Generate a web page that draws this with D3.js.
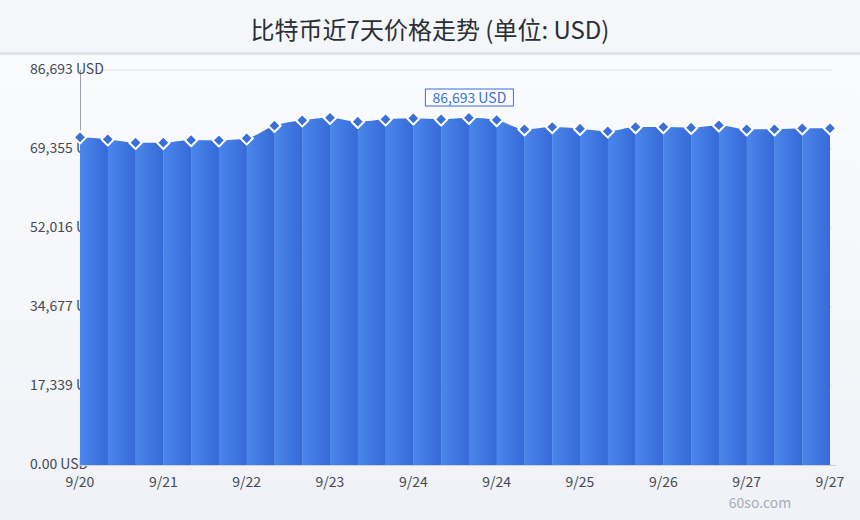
<!DOCTYPE html>
<html>
<head>
<meta charset="utf-8">
<script src="https://cdn.jsdelivr.net/npm/d3@7/dist/d3.min.js"></script>
<style>
  html, body { margin: 0; padding: 0; background: #f4f6fa; }
  svg { display: block; }
</style>
</head>
<body>
<svg id="chart" width="860" height="520"></svg>
<script>
// ---- data ----
const title = "比特币近7天价格走势 (单位: USD)";
const prices = [71920, 71480, 70740, 70740, 71330, 71260, 71700,
                74470, 75650, 76220, 75350, 75870, 76090, 75870,
                76220, 75720, 73680, 74180, 73810, 73240, 74180,
                74180, 74030, 74560, 73680, 73680, 73900, 73900];
const xTickLabels = ["9/20", "9/21", "9/22", "9/23", "9/24", "9/24", "9/25", "9/26", "9/27", "9/27"];
const yTickValues = [0, 17339, 34677, 52016, 69355, 86693];
const yTickLabels = ["0.00 USD", "17,339 USD", "34,677 USD", "52,016 USD", "69,355 USD", "86,693 USD"];
const yMax = 86693;
const badgeText = "86,693 USD";
const badgeIndex = 14;
const watermark = "60so.com";

(function () {
// ---- layout ----
const W = 860, H = 520;
const mLeft = 80, mRight = 830, mTop = 70, mBottom = 465;
const svg = d3.select("#chart");
const font = "'Noto Sans CJK SC', 'Noto Sans', sans-serif";

const defs = svg.append("defs");
const bg = defs.append("linearGradient").attr("id", "bg").attr("x1", 0).attr("y1", 0).attr("x2", 0).attr("y2", 1);
bg.append("stop").attr("offset", "0%").attr("stop-color", "#fbfcfe");
bg.append("stop").attr("offset", "100%").attr("stop-color", "#f0f2f7");

const strip = defs.append("linearGradient").attr("id", "strip").attr("x1", 0).attr("y1", 0).attr("x2", 1).attr("y2", 0);
strip.append("stop").attr("offset", "0%").attr("stop-color", "#4a87ea");
strip.append("stop").attr("offset", "100%").attr("stop-color", "#3669d8");

// background
svg.append("rect").attr("width", W).attr("height", H).attr("fill", "url(#bg)");
svg.append("rect").attr("width", W).attr("height", 52).attr("fill", "#f4f6fa");
svg.append("rect").attr("y", 52).attr("width", W).attr("height", 3).attr("fill", "#dfe3eb");

svg.append("text")
  .attr("x", W / 2).attr("y", 39)
  .attr("text-anchor", "middle")
  .attr("font-family", "'Noto Sans CJK SC', sans-serif")
  .attr("font-size", 24)
  .attr("fill", "#2b2f36")
  .text(title);

// scales
const x = d3.scaleLinear().domain([0, prices.length - 1]).range([mLeft, mRight]);
const y = d3.scaleLinear().domain([0, yMax]).range([mBottom, mTop]);

// grid (top line visible)
svg.append("g").selectAll("line").data(yTickValues).join("line")
  .attr("x1", mLeft).attr("x2", mRight + 2)
  .attr("y1", d => y(d)).attr("y2", d => y(d))
  .attr("stroke", "#dde1e8").attr("stroke-width", 1);

// y axis line
svg.append("line").attr("x1", mLeft + 0.5).attr("x2", mLeft + 0.5)
  .attr("y1", mTop).attr("y2", mBottom)
  .attr("stroke", "#9ba2ad").attr("stroke-width", 1);

// y labels (underneath series)
svg.append("g").selectAll("text").data(yTickValues).join("text")
  .attr("x", 30).attr("y", d => y(d) + 4)
  .attr("font-family", font).attr("font-size", 14)
  .attr("fill", "#454a52")
  .text((d, i) => yTickLabels[i]);

// area with strip gradient
const area = d3.area()
  .x((d, i) => x(i))
  .y0(mBottom)
  .y1(d => y(d))
  .curve(d3.curveMonotoneX);

defs.append("clipPath").attr("id", "areaClip")
  .append("path").attr("d", area(prices));

const segs = d3.range(prices.length - 1);
svg.append("g").attr("clip-path", "url(#areaClip)")
  .selectAll("rect").data(segs).join("rect")
  .attr("x", i => x(i))
  .attr("width", i => x(i + 1) - x(i) + 0.3)
  .attr("y", mTop - 10)
  .attr("height", mBottom - mTop + 10)
  .attr("fill", "url(#strip)");

// baseline
svg.append("line").attr("x1", mLeft).attr("x2", mRight + 6)
  .attr("y1", mBottom + 0.5).attr("y2", mBottom + 0.5)
  .attr("stroke", "#c9ced8").attr("stroke-width", 1);

// markers (diamonds)
const sym = d3.symbol().type(d3.symbolSquare).size(78);
svg.append("g").selectAll("path").data(prices).join("path")
  .attr("d", sym)
  .attr("transform", (d, i) => `translate(${x(i)},${y(d)}) rotate(45)`)
  .attr("fill", "#3a6fd9")
  .attr("stroke", "#ffffff")
  .attr("stroke-width", 2)
  .attr("stroke-linejoin", "round");

// x labels
const xTickIdx = d3.range(0, prices.length, 3);
svg.append("g").selectAll("text").data(xTickIdx).join("text")
  .attr("x", i => x(i)).attr("y", 487)
  .attr("text-anchor", "middle")
  .attr("font-family", font).attr("font-size", 14)
  .attr("fill", "#454a52")
  .text((d, k) => xTickLabels[k]);

// badge
const bx = x(badgeIndex), by = 97.5;
svg.append("rect").attr("x", bx - 43.5).attr("y", by - 8.5).attr("width", 88).attr("height", 17)
  .attr("fill", "#fbfcfe").attr("stroke", "#3a6fd9").attr("stroke-width", 1);
svg.append("text").attr("x", bx + 0.5).attr("y", by + 5)
  .attr("text-anchor", "middle")
  .attr("font-family", font).attr("font-size", 14)
  .attr("fill", "#3a6fd9")
  .text(badgeText);

// watermark
svg.append("text").attr("x", 760).attr("y", 508)
  .attr("text-anchor", "middle")
  .attr("font-family", font).attr("font-size", 14)
  .attr("fill", "#a7adb8")
  .text(watermark);
})();
</script>
</body>
</html>
